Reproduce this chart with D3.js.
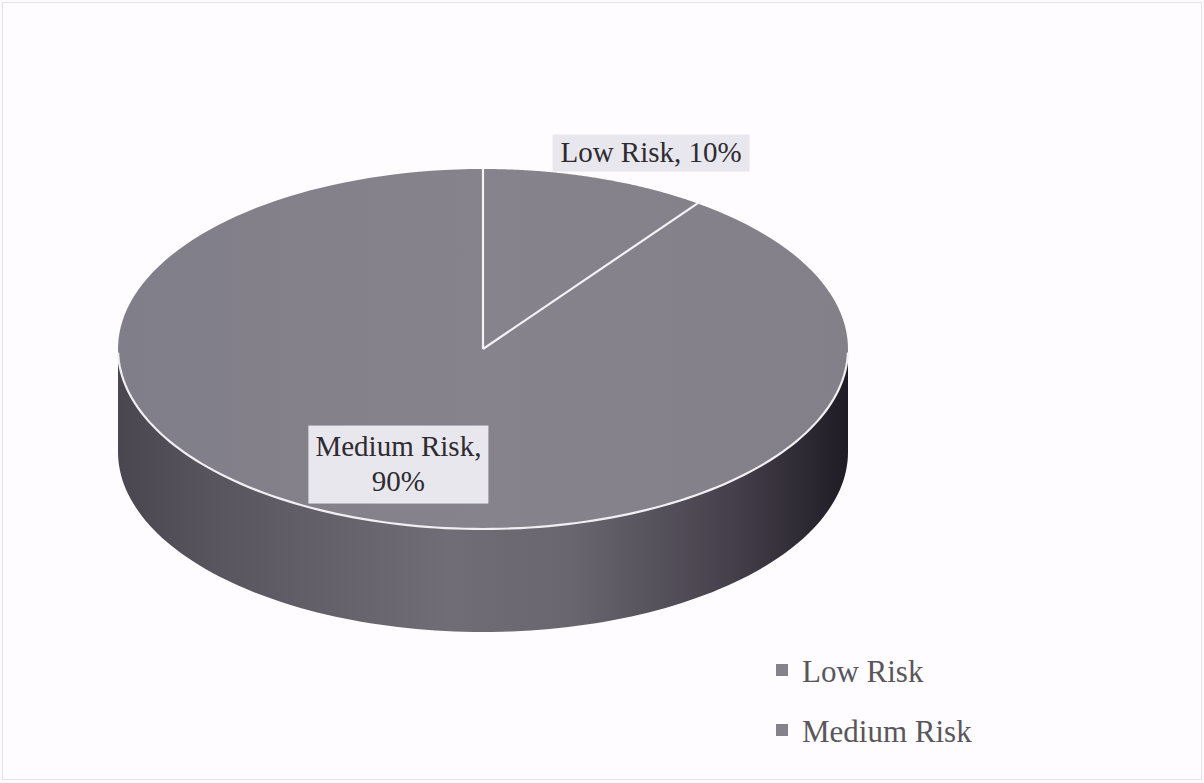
<!DOCTYPE html>
<html>
<head>
<meta charset="utf-8">
<script src="https://cdn.jsdelivr.net/npm/d3@7"></script>
<style>
  html, body { margin: 0; padding: 0; background: #fdfbfd; }
  svg { display: block; }
  .serif { font-family: 'Liberation Serif', 'Times New Roman', serif; }
</style>
</head>
<body>
<svg id="chart" width="1204" height="783"></svg>
<script>
const categories = ["Low Risk", "Medium Risk"];
const values = [10, 90];
const labelTexts = [["Low Risk, 10%"], ["Medium Risk,", "90%"]];

const W = 1204, H = 783;
const svg = d3.select("#chart");

// border frame
svg.append("rect").attr("x", 2.5).attr("y", 2.5).attr("width", W - 5).attr("height", H - 6)
  .attr("fill", "#fefcfe").attr("stroke", "#e4e2e6").attr("stroke-width", 1);

const cx = 483, cy = 349, rx = 365, ry = 180, depth = 103;

// scales mapping unit circle to ellipse
const sx = d3.scaleLinear().domain([-1, 1]).range([cx - rx, cx + rx]);
const sy = d3.scaleLinear().domain([-1, 1]).range([cy - ry, cy + ry]);
const px = a => sx(Math.sin(a));
const py = a => sy(-Math.cos(a));

const pie = d3.pie().sort(null).value(d => d)(values);

const defs = svg.append("defs");
const sideGrad = defs.append("linearGradient").attr("id", "sideGrad")
  .attr("gradientUnits", "userSpaceOnUse")
  .attr("x1", cx - rx).attr("x2", cx + rx).attr("y1", 0).attr("y2", 0);
[[0, "#4a4650"], [0.12, "#58545e"], [0.45, "#716d76"], [0.62, "#6a6670"], [0.85, "#433e49"], [1, "#201c26"]]
  .forEach(([o, c]) => sideGrad.append("stop").attr("offset", o).attr("stop-color", c));

const topGrad = defs.append("linearGradient").attr("id", "topGrad")
  .attr("gradientUnits", "userSpaceOnUse")
  .attr("x1", cx - rx).attr("x2", cx + rx).attr("y1", 0).attr("y2", 0);
[[0, "#807e88"], [0.5, "#86838d"], [1, "#83808a"]]
  .forEach(([o, c]) => topGrad.append("stop").attr("offset", o).attr("stop-color", c));

function arcPoints(a0, a1, n) {
  const pts = [];
  for (let i = 0; i <= n; i++) {
    const a = a0 + (a1 - a0) * i / n;
    pts.push([px(a), py(a)]);
  }
  return pts;
}

// side (front visible part, angles from PI/2 to 3PI/2)
const sideTop = arcPoints(Math.PI / 2, 3 * Math.PI / 2, 120);
const sideBot = sideTop.map(p => [p[0], p[1] + depth]).reverse();
svg.append("path")
  .attr("d", d3.line()(sideTop.concat(sideBot)) + "Z")
  .attr("fill", "url(#sideGrad)");

// top faces
pie.forEach((s, i) => {
  const pts = [[cx, cy]].concat(arcPoints(s.startAngle, s.endAngle, 160));
  svg.append("path")
    .attr("d", d3.line()(pts) + "Z")
    .attr("fill", "url(#topGrad)")
    .attr("stroke", "none");
});
// white slice separators
pie.forEach(s => {
  svg.append("line")
    .attr("x1", cx).attr("y1", cy)
    .attr("x2", px(s.startAngle)).attr("y2", py(s.startAngle))
    .attr("stroke", "#f4f2f4").attr("stroke-width", 2.2);
});
// white rim on front edge
svg.append("path")
  .attr("d", d3.line()(arcPoints(Math.PI / 2 + 0.02, 3 * Math.PI / 2 - 0.02, 120)))
  .attr("fill", "none").attr("stroke", "#f1eff2").attr("stroke-width", 2.2);

// data labels
const labelPos = pie.map((s, i) => {
  const mid = (s.startAngle + s.endAngle) / 2;
  const k = i === 0 ? [1.49, 1.145] : [0.75, 0.675];
  return [cx + Math.sin(mid) * rx * k[0], cy - Math.cos(mid) * ry * k[1]];
});
const boxSizes = [[197, 37], [180, 78]];
pie.forEach((s, i) => {
  const [lx, ly] = labelPos[i];
  const [bw, bh] = boxSizes[i];
  svg.append("rect").attr("x", lx - bw / 2).attr("y", ly - bh / 2)
    .attr("width", bw).attr("height", bh).attr("fill", "#e9e7ee");
  const t = svg.append("text").attr("text-anchor", "middle").attr("class", "serif")
    .attr("font-size", 29).attr("fill", "#2e2b31");
  const lines = labelTexts[i];
  const lh = 35;
  lines.forEach((ln, j) => {
    t.append("tspan").attr("x", lx)
      .attr("y", ly + 9 + (j - (lines.length - 1) / 2) * lh)
      .text(ln);
  });
});

// legend
const legY = d3.scalePoint().domain(categories).range([670, 730]);
const leg = svg.append("g");
categories.forEach(c => {
  leg.append("rect").attr("x", 776).attr("y", legY(c) - 6).attr("width", 12).attr("height", 12)
    .attr("fill", "#85828c");
  leg.append("text").attr("x", 802).attr("y", legY(c) + 12).attr("class", "serif")
    .attr("font-size", 31).attr("fill", "#59565c").text(c);
});
</script>
</body>
</html>
